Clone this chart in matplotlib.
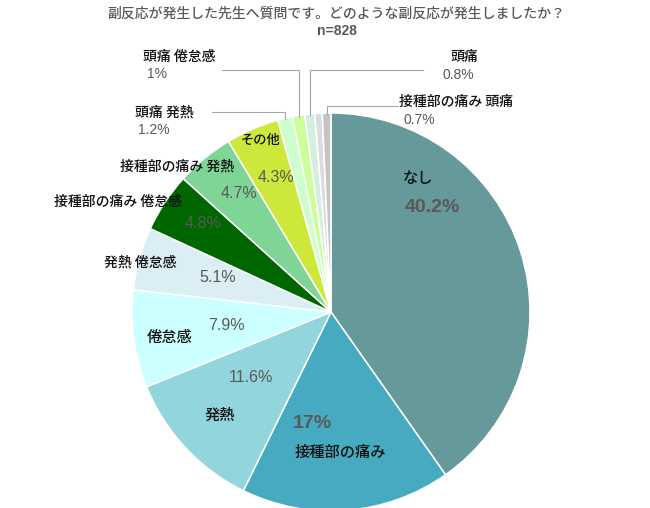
import matplotlib
matplotlib.use("Agg")
import matplotlib.pyplot as plt
import numpy as np

plt.rcParams['font.family'] = ['Noto Sans CJK JP', 'DejaVu Sans']

# ---------------- data ----------------
categories = ['なし', '接種部の痛み', '発熱', '倦怠感', '発熱 倦怠感',
              '接種部の痛み 倦怠感', '接種部の痛み 発熱', 'その他',
              '頭痛 発熱', '頭痛 倦怠感', '頭痛', '', '接種部の痛み 頭痛']
values = [40.2, 17, 11.6, 7.9, 5.1, 4.8, 4.7, 4.3, 1.2, 1, 0.8, 0.6, 0.7]
colors = ['#669999', '#46abc0', '#92d5dc', '#ccffff', '#daeef3',
          '#006600', '#7fd596', '#cde83a', '#ccffcc', '#ccff99',
          '#d5efdf', '#dcdcdc', '#c4c4c4']
title = '副反応が発生した先生へ質問です。どのような副反応が発生しましたか？'
subtitle = 'n=828'

# ---------------- layout (pixels of the 650x508 picture) ----------------
W, H = 650, 508
CX, CY, R = 331, 312, 199

def px(x, y):
    return (x - CX) / R, (CY - y) / R

# inside labels: index -> (name pos, name size, pct pos, pct size)
inside = {
    0: ((418, 178), 11, (432, 208), 14),
    1: ((340, 452), 11, (312, 424), 14),
    2: ((220, 415), 11, (251, 378), 11.5),
    3: ((170, 337), 11, (226, 325), 11.5),
    4: ((140, 263), 10, (218, 277), 11.5),
    5: ((118, 202), 10, (203, 223), 11.5),
    6: ((177, 167), 10, (239, 194), 11.5),
    7: ((261, 140), 9.5, (276, 178), 11.5),
}
# outside labels: index -> (name pos, pct pos, ha, leader y, leader end x)
outside = {
    8: ((135, 113), (138, 130), 'left', 112, 212),
    9: ((143, 57), (147, 74), 'left', 70, 222),
    10: ((464, 57), (458, 75), 'center', 70, 423),
    12: ((399, 102), (403, 120), 'left', 106, 398),
}

fig = plt.figure(figsize=(W / 100, H / 100), dpi=100)
ax = fig.add_axes([0, 0, 1, 1])

wedges, _ = ax.pie(values, colors=colors, startangle=90, counterclock=False,
                   radius=1, wedgeprops=dict(edgecolor='white', linewidth=1.1))
ax.set_aspect('auto')
ax.set_xlim(-CX / R, (W - CX) / R)
ax.set_ylim(-(H - CY) / R, CY / R)
ax.axis('off')

pct_font = ['Liberation Sans', 'Noto Sans CJK JP']
pct_color = '#595959'
name_w = 'medium'

for i, (npos, nsize, ppos, psize) in inside.items():
    ax.text(*px(*npos), categories[i], ha='center', va='center',
            fontsize=nsize, color='#111111', fontweight=name_w)
    ax.text(*px(*ppos), f'{values[i]:g}%', ha='center', va='center',
            fontsize=psize, color=pct_color, family=pct_font,
            fontweight='bold' if psize > 12 else 'normal')

total = sum(values)
cum = np.cumsum([0] + values[:-1])
for i, (npos, ppos, ha, ly, lx) in outside.items():
    theta = np.deg2rad(360 * (cum[i] + values[i] / 2) / total)
    ex, ey = np.sin(theta), np.cos(theta)
    hy = px(0, ly)[1]
    hx = px(lx, 0)[0]
    ax.plot([hx, ex, ex], [hy, hy, ey * 0.995], color='#a6a6a6', lw=0.8,
            solid_joinstyle='miter')
    ax.text(*px(*npos), categories[i], ha=ha, va='center',
            fontsize=10, color='#111111', fontweight=name_w)
    ax.text(*px(*ppos), f'{values[i]:g}%', ha=ha, va='center',
            fontsize=10, color=pct_color, family=pct_font)

fig.text(336 / W, 1 - 14 / H, title, ha='center', va='center',
         fontsize=10, color='#595959', fontweight=name_w)
fig.text(337 / W, 1 - 31 / H, subtitle, ha='center', va='center',
         fontsize=10, color='#595959', fontweight='bold', family=pct_font)

fig.savefig('out.png', dpi=100)
